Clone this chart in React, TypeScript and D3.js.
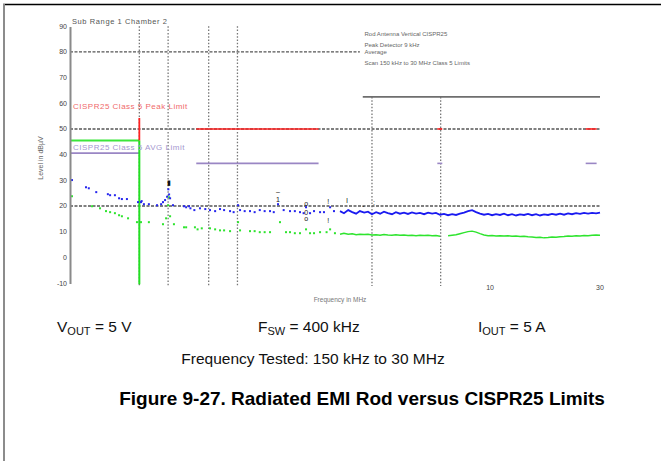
import React from "react";
import * as d3 from "d3";

const W = 661;
const H = 461;

// axis ticks
const yTickValues = [-10, 0, 10, 20, 30, 40, 50, 60, 70, 80, 90];
const xTickValues = [10, 30];
const xTickLabels = ["10", "30"];

// dashed horizontal grid (level dBµV, end frequency MHz)
const dashedLevels = [80, 50, 20];
const dashedEnds = [2.72, 30, 30];

// dotted vertical grid (frequency MHz, top level dBµV)
const dottedFreqs = [0.3, 0.4, 0.6, 0.8, 3.07, 6.1];
const dottedTops = [90, 90, 90, 90, 62.5, 62.5];

// limit lines: [fStart, fEnd, level]
const peakLimitBands = [
  [0.53, 1.8, 50],
  [5.9, 6.2, 50],
  [26, 29, 50],
];
const avgLimitBands = [
  [0.15, 0.3, 40.6],
  [0.53, 1.8, 36.6],
  [5.9, 6.2, 36.6],
  [26, 29, 36.6],
];
const lwLimitBands = [[0.15, 0.3, 45.5]];
const grayLimitBands = [[2.8, 30, 62.5]];
const redStepFreq = 0.3;
const redStepLevels = [54.3, 45.5];
const greenStepLevels = [45.5, -10.5];

// peak (blue) measured points, low-frequency scatter part
const peakScatterFreq = [
  0.153, 0.176, 0.181, 0.195, 0.219, 0.224, 0.235, 0.245, 0.252, 0.265, 0.296, 0.305,
  0.307, 0.314, 0.33, 0.358, 0.373, 0.38, 0.388, 0.396, 0.401, 0.404, 0.408, 0.42,
  0.469, 0.479, 0.493, 0.5, 0.52, 0.55, 0.58, 0.608, 0.64, 0.672, 0.7, 0.743, 0.77,
  0.805, 0.821, 0.86, 0.907, 0.95, 1.0, 1.05, 1.108, 1.15, 1.2, 1.27, 1.353, 1.42,
  1.495, 1.55, 1.588, 1.653, 1.72, 1.827, 1.9, 2.02, 2.1,
];
const peakScatterLevel = [
  30.1, 27.3, 26.9, 25.4, 24.6, 24.2, 24.2, 23.0, 22.7, 22.7, 21.5, 21.5,
  21.9, 20.7, 20.7, 20.3, 20.7, 21.5, 22.3, 23.6, 26.5, 24.5, 23.0, 20.3,
  19.9, 19.5, 19.9, 19.1, 18.4, 19.1, 18.8, 18.4, 18.0, 18.8, 18.4, 18.0, 17.6,
  20.3, 18.4, 18.0, 18.0, 17.6, 18.4, 18.0, 18.0, 17.6, 20.7, 18.4, 18.0, 18.0,
  17.6, 17.2, 19.5, 17.2, 18.0, 17.6, 17.6, 19.5, 18.0,
];

// average (green) measured points, low-frequency scatter part
const avgScatterFreq = [
  0.153, 0.187, 0.2025, 0.215, 0.224, 0.235, 0.245, 0.252, 0.268, 0.293, 0.305, 0.33,
  0.38, 0.392, 0.4, 0.404, 0.408, 0.424, 0.469, 0.479, 0.523, 0.537, 0.56, 0.608,
  0.64, 0.672, 0.7, 0.743, 0.805, 0.821, 0.907, 0.95, 1.0, 1.05, 1.108, 1.224, 1.3,
  1.353, 1.42, 1.495, 1.588, 1.653, 1.72, 1.827, 1.95, 2.02, 2.12,
];
const avgScatterLevel = [
  23.8, 19.9, 19.1, 18.0, 17.6, 17.2, 16.4, 16.0, 15.2, 13.7, 13.7, 13.7,
  12.9, 15.2, 20.3, 23.4, 16.0, 12.9, 11.7, 11.7, 11.7, 10.9, 11.3, 11.3,
  10.9, 10.5, 10.5, 10.2, 13.7, 10.5, 10.2, 10.2, 9.8, 9.8, 9.8, 13.7, 9.8,
  9.8, 9.4, 9.4, 10.9, 9.4, 9.4, 9.8, 9.8, 10.9, 9.4,
];

// dense sweep part (2.2 MHz .. 30 MHz)
const sweepFreq = [
  2.23, 2.32, 2.42, 2.52, 2.62, 2.72, 2.84, 2.95, 3.07, 3.2, 3.33, 3.46, 3.6, 3.75,
  3.9, 4.06, 4.23, 4.4, 4.58, 4.77, 4.96, 5.17, 5.38, 5.6, 5.82, 6.06, 6.31, 6.57,
  6.84, 7.11, 7.4, 7.71, 8.02, 8.35, 8.69, 9.04, 9.41, 9.8, 10.2, 10.61, 11.04,
  11.49, 11.96, 12.45, 12.96, 13.49, 14.04, 14.61, 15.21, 15.83, 16.47, 17.15,
  17.85, 18.57, 19.33, 20.12, 20.94, 21.8, 22.68, 23.61, 24.58, 25.58, 26.63,
  27.72, 28.85, 30.0,
];
const sweepPeak = [
  18.0, 17.2, 18.4, 17.6, 17.0, 18.0, 17.4, 17.8, 16.8, 17.6, 17.0, 17.8, 17.2, 16.8,
  17.6, 17.0, 17.4, 16.9, 17.5, 17.0, 17.3, 16.8, 17.4, 17.0, 17.3, 16.6, 16.9, 16.4,
  16.8, 16.5, 17.0, 17.4, 18.0, 18.4, 17.6, 17.0, 16.6, 16.9, 16.4, 16.8, 16.5,
  17.0, 16.4, 16.8, 16.3, 16.7, 16.5, 16.9, 16.4, 16.8, 16.3, 16.7,
  16.5, 16.9, 16.6, 17.0, 16.6, 17.1, 16.8, 17.2, 16.9, 17.3, 17.0,
  17.3, 17.1, 17.4,
];
const sweepAvg = [
  9.0, 9.4, 9.0, 9.2, 8.8, 9.0, 8.9, 9.0, 8.7, 8.8, 8.6, 8.9, 8.7, 8.6,
  8.8, 8.6, 8.7, 8.5, 8.6, 8.4, 8.6, 8.5, 8.6, 8.4, 8.5, 8.2, NaN, 8.4,
  8.6, 8.8, 9.2, 9.6, 10.0, 10.2, 9.8, 9.2, 8.7, 8.4, 8.5, 8.3, 8.4,
  8.3, 8.4, 8.2, 8.3, 8.1, 8.2, 8.0, 7.9, 7.7, 7.8, 7.6,
  7.7, 7.9, 7.8, 8.0, 8.1, 8.3, 8.2, 8.4, 8.3, 8.5, 8.4,
  8.6, 8.7, 8.6,
];

// marker glyphs [freq, level, label]
const markerFreq = [0.404, 1.2, 1.2, 1.59, 1.59, 1.59, 1.98, 1.98, 2.39, 2.82, 3.13];
const markerLevel = [29.0, 25.8, 22.7, 21.1, 17.6, 15.2, 21.9, 14.5, 22.3, 20.1, 21.5];
const markerText = ["▮", "–", "1", "o", "0", "o", "!", "!", "l", "-", ":"];

const plotTitle = "Sub Range 1    Chamber 2";
const legendLines = [
  "Rod Antenna   Vertical   CISPR25",
  "Peak   Detector  9 kHz",
  "Average",
  "Scan  150 kHz  to  30 MHz   Class 5 Limits",
];
const peakLimitLabel = "CISPR25 Class 5 Peak Limit";
const avgLimitLabel = "CISPR25 Class 5 AVG Limit";
const yAxisTitle = "Level in dBµV";
const xAxisTitle = "Frequency in MHz";

export default function App() {
  const x = d3.scaleLog().domain([0.15, 30]).range([70, 600]);
  const y = d3.scaleLinear().domain([-10, 90]).range([283, 26.3]);

  const sweepLine = d3
    .line<[number, number]>()
    .defined((d) => !isNaN(d[1]))
    .x((d) => x(d[0]))
    .y((d) => y(d[1]));

  const peakPath = sweepLine(sweepFreq.map((f, i) => [f, sweepPeak[i]]));
  const avgPath = sweepLine(sweepFreq.map((f, i) => [f, sweepAvg[i]]));

  const seg = (bands: number[][], color: string, w: number, key: string) =>
    bands.map((b, i) => (
      <line key={key + i} x1={x(b[0])} x2={x(b[1])} y1={y(b[2])} y2={y(b[2])} stroke={color} strokeWidth={w} />
    ));

  const font = "Liberation Sans, Arial, sans-serif";

  return (
    <svg width={W} height={H} style={{ position: "absolute", left: 0, top: 0, background: "#fff" }} fontFamily={font}>
      <rect width={W} height={H} fill="#fff" />
      {/* page frame */}
      <line x1={3} x2={W} y1={4.5} y2={4.5} stroke="#000" strokeWidth={1.6} />
      <line x1={4} x2={4} y1={4} y2={H} stroke="#8c8c8c" strokeWidth={2} />

      {/* dotted vertical grid */}
      {dottedFreqs.map((f, i) => (
        <line key={"dv" + i} x1={x(f)} x2={x(f)} y1={y(dottedTops[i])} y2={286} stroke="#777" strokeWidth={1.3} strokeDasharray="1.5,1.8" />
      ))}
      {/* dashed horizontal grid */}
      {dashedLevels.map((v, i) => (
        <line key={"dh" + i} x1={70} x2={x(dashedEnds[i])} y1={y(v)} y2={y(v)} stroke="#555" strokeWidth={1.3} strokeDasharray="3,1.5" />
      ))}

      {/* legend box */}
      <rect x={x(2.75)} y={y(90)} width={x(30) - x(2.75)} height={y(63.6) - y(90)} fill="#fff" />
      {legendLines.map((t, i) => (
        <text key={"lg" + i} x={x(2.85)} y={[36, 47, 54, 65][i]} fontSize={6} fill="#666">{t}</text>
      ))}

      {/* limits */}
      {seg(grayLimitBands, "#6e6e6e", 1.6, "gl")}
      {seg(peakLimitBands, "#f22", 1.6, "pl")}
      {seg(avgLimitBands, "#9a86c4", 1.6, "al")}
      {seg(lwLimitBands, "#3be63b", 2, "lw")}
      <line x1={x(redStepFreq)} x2={x(redStepFreq)} y1={y(redStepLevels[0])} y2={y(redStepLevels[1])} stroke="#f22" strokeWidth={1.8} />
      <line x1={x(redStepFreq)} x2={x(redStepFreq)} y1={y(greenStepLevels[0])} y2={y(greenStepLevels[1])} stroke="#22e022" strokeWidth={2} />

      {/* labels in plot */}
      <text x={72} y={24} fontSize={7.5} fill="#555" letterSpacing={0.6}>{plotTitle}</text>
      <text x={73} y={109} fontSize={8} fill="#f06a6a" letterSpacing={0.5}>{peakLimitLabel}</text>
      <text x={73} y={150} fontSize={8} fill="#a497cf" letterSpacing={0.5}>{avgLimitLabel}</text>

      {/* measured data */}
      <path d={avgPath || ""} fill="none" stroke="#2ee42e" strokeWidth={1.4} />
      <path d={peakPath || ""} fill="none" stroke="#1a1af0" strokeWidth={1.8} />
      {avgScatterFreq.map((f, i) => (
        <rect key={"as" + i} x={x(f) - 1} y={y(avgScatterLevel[i]) - 1} width={2} height={2} fill="#2ee42e" />
      ))}
      {peakScatterFreq.map((f, i) => (
        <rect key={"ps" + i} x={x(f) - 1} y={y(peakScatterLevel[i]) - 1} width={2} height={2} fill="#2626ee" />
      ))}
      {markerFreq.map((f, i) => (
        <text key={"mk" + i} x={x(f)} y={y(markerLevel[i]) + 2.5} fontSize={7} textAnchor="middle" fill="#111">{markerText[i]}</text>
      ))}

      {/* y axis */}
      <line x1={70.5} x2={70.5} y1={27} y2={284} stroke="#8a8a8a" strokeWidth={2} />
      {yTickValues.map((v) => (
        <text key={"yt" + v} x={67} y={y(v) + 2.5} fontSize={7} textAnchor="end" fill="#444">{v}</text>
      ))}
      <text transform={`translate(43,158) rotate(-90)`} fontSize={7} textAnchor="middle" fill="#666">{yAxisTitle}</text>

      {/* x axis labels */}
      {xTickValues.map((f, i) => (
        <text key={"xt" + i} x={x(f)} y={290} fontSize={7} textAnchor="middle" fill="#444">{xTickLabels[i]}</text>
      ))}
      <text x={340} y={302} fontSize={6.5} textAnchor="middle" fill="#777">{xAxisTitle}</text>

      {/* conditions */}
      <g fontSize={15.5} fill="#111">
        <text x={57} y={332}>
          V<tspan fontSize={11} dy={3}>OUT</tspan><tspan dy={-3}> = 5 V</tspan>
        </text>
        <text x={258} y={332}>
          F<tspan fontSize={11} dy={3}>SW</tspan><tspan dy={-3}> = 400 kHz</tspan>
        </text>
        <text x={478} y={332}>
          I<tspan fontSize={11} dy={3}>OUT</tspan><tspan dy={-3}> = 5 A</tspan>
        </text>
        <text x={313} y={364} textAnchor="middle">Frequency Tested: 150 kHz to 30 MHz</text>
      </g>
      <text x={362} y={405} fontSize={19} fontWeight="bold" textAnchor="middle" fill="#000">
        Figure 9-27. Radiated EMI Rod versus CISPR25 Limits
      </text>
    </svg>
  );
}
